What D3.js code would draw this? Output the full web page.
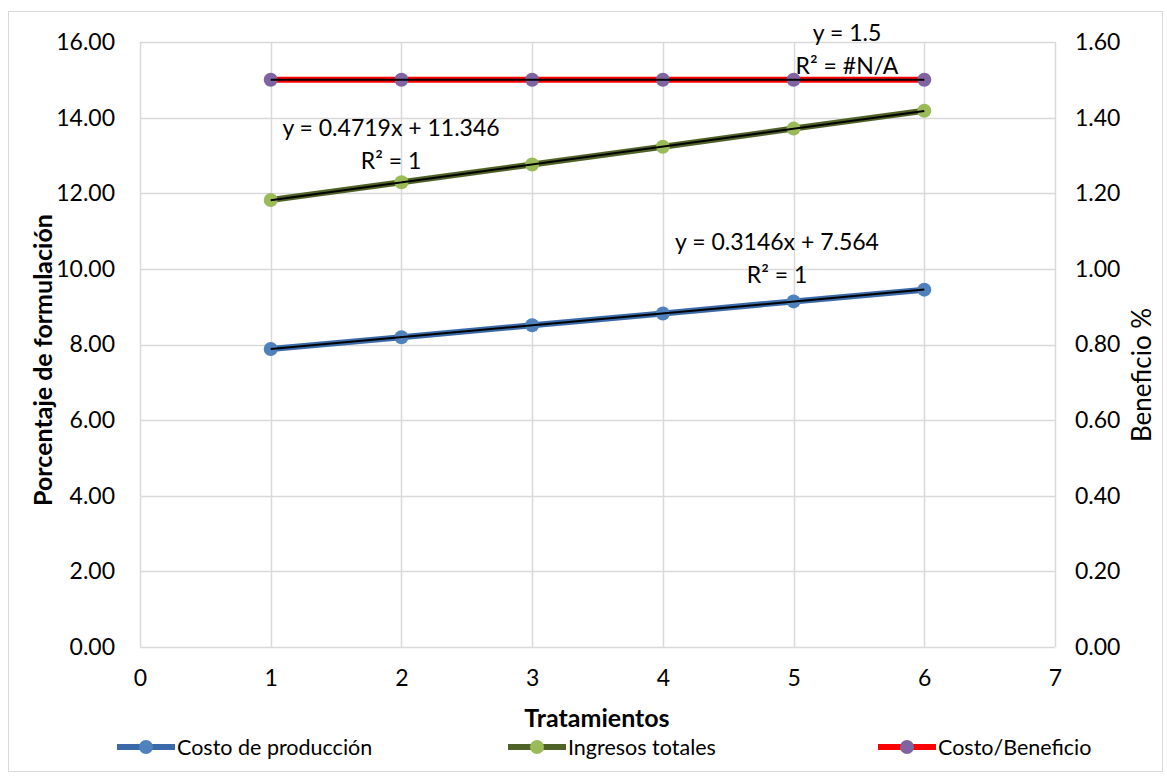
<!DOCTYPE html>
<html>
<head>
<meta charset="utf-8">
<script src="https://cdn.jsdelivr.net/npm/d3@7"></script>
<style>
  body { margin: 0; background: #fff; }
  text { font-family: Lato, "Open Sans", sans-serif; fill: #000; }
</style>
</head>
<body>
<div id="chart"></div>
<script>
// data
var tratamientos = [1, 2, 3, 4, 5, 6];
var costoProduccion = [7.88, 8.19, 8.51, 8.82, 9.14, 9.45];
var ingresosTotales = [11.82, 12.29, 12.76, 13.23, 13.71, 14.18];
var costoBeneficio = [1.5, 1.5, 1.5, 1.5, 1.5, 1.5];
var leftTicks = [0, 2, 4, 6, 8, 10, 12, 14, 16];
var rightTicks = [0, 0.2, 0.4, 0.6, 0.8, 1.0, 1.2, 1.4, 1.6];
var xTicks = [0, 1, 2, 3, 4, 5, 6, 7];
// trendlines: slope, intercept
var trendCosto = [0.3146, 7.564];
var trendIngresos = [0.4719, 11.346];
var trendCB = [0, 1.5];

var width = 1167, height = 776;
var margin = {left: 140, right: 112, top: 42, bottom: 129};

var svg = d3.select("#chart").append("svg")
  .attr("width", width)
  .attr("height", height);

// chart border
svg.append("rect")
  .attr("x", 8.5).attr("y", 11.5)
  .attr("width", 1154).attr("height", 760)
  .attr("fill", "none").attr("stroke", "#d9d9d9");

var x = d3.scaleLinear().domain([0, 7]).range([margin.left, width - margin.right]);
var yL = d3.scaleLinear().domain([0, 16]).range([height - margin.bottom, margin.top]);
var yR = d3.scaleLinear().domain([0, 1.6]).range([height - margin.bottom, margin.top]);

// gridlines
svg.append("g").selectAll("line").data(leftTicks).enter().append("line")
  .attr("x1", x(0)).attr("x2", x(7))
  .attr("y1", d => Math.round(yL(d)) + 0.5).attr("y2", d => Math.round(yL(d)) + 0.5)
  .attr("stroke", "#d9d9d9").attr("stroke-width", 1.5);
svg.append("g").selectAll("line").data(xTicks).enter().append("line")
  .attr("x1", d => Math.round(x(d)) + 0.5).attr("x2", d => Math.round(x(d)) + 0.5)
  .attr("y1", yL(0)).attr("y2", yL(16))
  .attr("stroke", "#d9d9d9").attr("stroke-width", 1.5);

// axes (no domain lines, just labels)
var fmt = d3.format(".2f");
var gl = svg.append("g").attr("transform", "translate(" + margin.left + ",0)")
  .call(d3.axisLeft(yL).tickValues(leftTicks).tickFormat(fmt).tickSize(0).tickPadding(25));
var gr = svg.append("g").attr("transform", "translate(" + (width - margin.right) + ",0)")
  .call(d3.axisRight(yR).tickValues(rightTicks).tickFormat(fmt).tickSize(0).tickPadding(20));
var gx = svg.append("g").attr("transform", "translate(0," + (height - margin.bottom) + ")")
  .call(d3.axisBottom(x).tickValues(xTicks).tickFormat(d3.format("d")).tickSize(0).tickPadding(23));
[gl, gr, gx].forEach(function(g){
  g.select(".domain").remove();
  g.selectAll("text").style("font-size", "23px").style("font-family", "Lato, sans-serif");
});

// axis titles
svg.append("text")
  .attr("transform", "translate(52," + 360 + ") rotate(-90)")
  .attr("text-anchor", "middle")
  .style("font-size", "25px").style("font-weight", "bold")
  .text("Porcentaje de formulación");
svg.append("text")
  .attr("transform", "translate(1151," + 375 + ") rotate(-90)")
  .attr("text-anchor", "middle")
  .style("font-size", "26px")
  .text("Beneficio %");
svg.append("text")
  .attr("x", 597).attr("y", 727)
  .attr("text-anchor", "middle")
  .style("font-size", "25px").style("font-weight", "bold")
  .text("Tratamientos");

var series = [
  {name: "Costo de producción", values: costoProduccion, y: yL, line: "#3a6aa8", marker: "#4f81bd", trend: trendCosto},
  {name: "Ingresos totales", values: ingresosTotales, y: yL, line: "#4f6228", marker: "#9bbb59", trend: trendIngresos},
  {name: "Costo/Beneficio", values: costoBeneficio, y: yR, line: "#ff0000", marker: "#8064a2", trend: trendCB}
];

series.forEach(function(s){
  var line = d3.line().x((d, i) => x(tratamientos[i])).y(d => s.y(d));
  svg.append("path").datum(s.values)
    .attr("d", line).attr("fill", "none")
    .attr("stroke", s.line).attr("stroke-width", 6);
  svg.selectAll(null).data(s.values).enter().append("circle")
    .attr("cx", (d, i) => x(tratamientos[i]))
    .attr("cy", d => s.y(d))
    .attr("r", 7)
    .attr("fill", s.marker);
  // black linear trendline
  var t0 = tratamientos[0], t1 = tratamientos[tratamientos.length - 1];
  svg.append("line")
    .attr("x1", x(t0)).attr("y1", s.y(s.trend[0] * t0 + s.trend[1]))
    .attr("x2", x(t1)).attr("y2", s.y(s.trend[0] * t1 + s.trend[1]))
    .attr("stroke", "#000").attr("stroke-width", 2);
});

// trendline equations
var eqs = [
  {lines: ["y = 0.4719x + 11.346", "R² = 1"], cx: 391, cy: 136},
  {lines: ["y = 0.3146x + 7.564", "R² = 1"], cx: 777, cy: 250},
  {lines: ["y = 1.5", "R² = #N/A"], cx: 847, cy: 41}
];
eqs.forEach(function(e){
  e.lines.forEach(function(t, i){
    svg.append("text")
      .attr("x", e.cx).attr("y", e.cy + i * 33)
      .attr("text-anchor", "middle")
      .style("font-size", "23px")
      .text(t);
  });
});

// legend
var legendX = [117, 508, 878];
var lg = svg.append("g");
series.forEach(function(s, i){
  var lx = legendX[i], ly = 747;
  lg.append("line")
    .attr("x1", lx).attr("x2", lx + 58).attr("y1", ly).attr("y2", ly)
    .attr("stroke", s.line).attr("stroke-width", 6);
  lg.append("circle").attr("cx", lx + 29).attr("cy", ly).attr("r", 7).attr("fill", s.marker);
  lg.append("text")
    .attr("x", lx + 60).attr("y", ly + 8)
    .style("font-size", "21.5px")
    .text(s.name);
});
</script>
</body>
</html>
